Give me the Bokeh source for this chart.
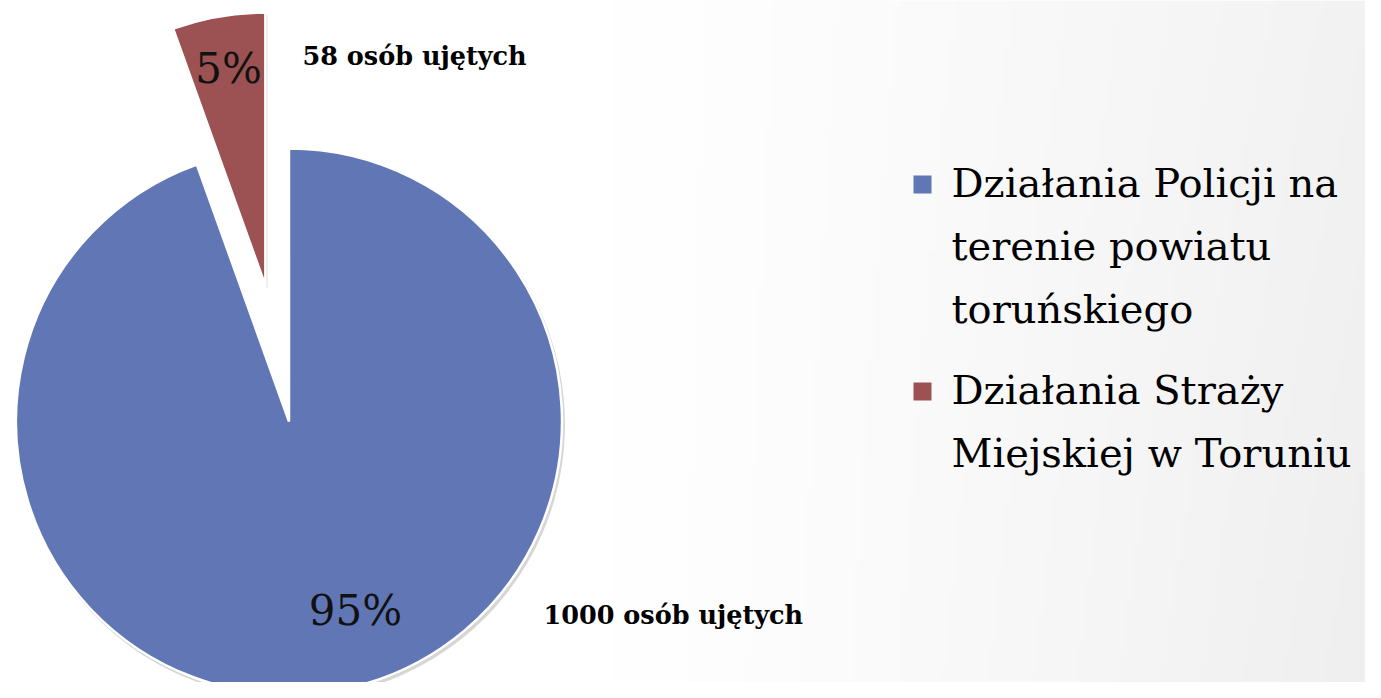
import numpy as np
from bokeh.plotting import figure
from bokeh.models import Range1d, ColumnDataSource
from bokeh.core.properties import value
from bokeh.embed import file_html
from bokeh.resources import INLINE

# ---- data ----
categories = ["Działania Policji na terenie powiatu toruńskiego",
              "Działania Straży Miejskiej w Toruniu"]
legend_lines = [["Działania Policji na", "terenie powiatu", "toruńskiego"],
                ["Działania Straży", "Miejskiej w Toruniu"]]
counts = [1000, 58]
count_labels = ["1000 osób ujętych", "58 osób ujętych"]
colors = ["#6176B5", "#9C5252"]

# ---- layout / style ----
W, H = 1365, 682
CX, CY, R = 288.5, 261.0, 273.0
explode = [0.0, 138.0]
SERIF = "DejaVu Serif"

p = figure(width=W, height=H, output_backend="svg", toolbar_location=None,
           x_range=Range1d(0, W), y_range=Range1d(0, H), min_border=0)
p.axis.visible = False
p.grid.visible = False
p.outline_line_color = None
p.background_fill_color = "white"
p.border_fill_color = "white"

# background gradient (white at left -> light grey at right)
nx, ny = 200, 100
gx = np.linspace(0, 1, nx)
gy = np.linspace(0, 1, ny)
GX, GY = np.meshgrid(gx, gy)
shade = 255 - 16 * np.clip((GX - 0.45) / 0.55, 0, 1) ** 1.2 * (0.8 + 0.2 * (1 - GY))
shade = shade.astype(np.uint8)
img = np.empty((ny, nx), dtype=np.uint32)
view = img.view(dtype=np.uint8).reshape((ny, nx, 4))
view[:, :, 0] = shade
view[:, :, 1] = shade
view[:, :, 2] = shade
view[:, :, 3] = 255
p.image_rgba(image=[img], x=0, y=0, dw=W, dh=H)

# pie geometry computed from counts
total = float(sum(counts))
fracs = [c / total for c in counts]
cum = np.concatenate([[0.0], np.cumsum(fracs)])
start = [np.pi / 2 - 2 * np.pi * cum[i] for i in range(len(counts))]
end = [np.pi / 2 - 2 * np.pi * cum[i + 1] for i in range(len(counts))]
mid = [(s + e) / 2 for s, e in zip(start, end)]
xs = [CX + explode[i] * np.cos(mid[i]) for i in range(len(counts))]
ys = [CY + explode[i] * np.sin(mid[i]) for i in range(len(counts))]
pcts = ["%d%%" % round(100 * f) for f in fracs]

src = ColumnDataSource(dict(x=xs, y=ys, start=start, end=end, color=colors,
                            cat=categories))

# soft shadow
p.wedge(x=[x + 2 for x in xs], y=[y - 3 for y in ys], radius=R + 1,
        start_angle=start, end_angle=end, direction="clock",
        fill_color="#000000", fill_alpha=0.16, line_color=None)
p.wedge(x="x", y="y", radius=R, start_angle="start", end_angle="end",
        direction="clock", fill_color="color", line_color="white",
        line_width=2.5, source=src)

# percentage labels
pct_pos = [(355, 72), (228, 614)]
p.text(x=[q[0] for q in pct_pos], y=[q[1] for q in pct_pos], text=pcts,
       text_font=value(SERIF), text_font_size="42px", text_align="center",
       text_baseline="middle", text_color="#111111")

# count annotations (bold)
cnt_pos = [(543, 68), (302, 627)]
p.text(x=[q[0] for q in cnt_pos], y=[q[1] for q in cnt_pos], text=count_labels,
       text_font=value(SERIF), text_font_size="25.5px", text_font_style="bold",
       text_align="left", text_baseline="middle", text_color="#000000")

# legend (manual)
leg_sq_x = 922
leg_text_x = 951
leg_top = [498, 291]
line_gap = 63
for i, lines in enumerate(legend_lines):
    p.rect(x=[leg_sq_x], y=[leg_top[i]], width=18, height=18,
           fill_color=colors[i], line_color=None)
    ty = [leg_top[i] + 1.5 - k * line_gap for k in range(len(lines))]
    p.text(x=[leg_text_x] * len(lines), y=ty, text=lines,
           text_font=value(SERIF), text_font_size="40px", text_align="left",
           text_baseline="middle", text_color="#000000")

open("out.html", "w").write(file_html(p, INLINE))
